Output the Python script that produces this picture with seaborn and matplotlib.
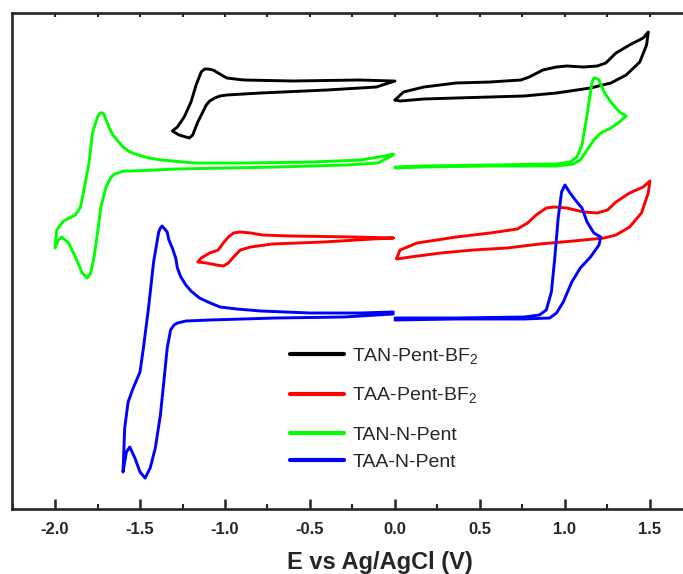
import numpy as np
import pandas as pd
import seaborn as sns
import matplotlib.pyplot as plt
from matplotlib.lines import Line2D
from matplotlib.ticker import MultipleLocator

# cyclic voltammograms: potential (V vs Ag/AgCl), current in offset arbitrary units
compounds = ["TAN-Pent-BF2", "TAA-Pent-BF2", "TAN-N-Pent", "TAA-N-Pent"]
legend_labels = ["TAN-Pent-BF$_2$", "TAA-Pent-BF$_2$", "TAN-N-Pent", "TAA-N-Pent"]
colors = ["#000000", "#ff0000", "#00ff00", "#0000ff"]

xtick_values = [-2.0, -1.5, -1.0, -0.5, 0.0, 0.5, 1.0, 1.5]
xtick_labels = ["-2.0", "-1.5", "-1.0", "-0.5", "0.0", "0.5", "1.0", "1.5"]

# TAN-Pent-BF2
tan_bf2_neg_E = [-0.00, -0.11, -0.40, -0.79, -0.99, -1.03, -1.06, -1.09, -1.11, -1.16, -1.19, -1.21, -1.27, -1.31,
                 -1.28, -1.24, -1.20, -1.17, -1.14, -1.12, -1.10, -1.07, -1.03, -0.99, -0.94, -0.89, -0.60, -0.21, -0.01]
tan_bf2_neg_I = [428, 422, 419, 416, 414, 413, 411, 408, 404, 387, 374, 371, 374, 378,
                 382, 392, 407, 424, 437, 440, 440, 439, 435, 431, 430, 429, 428, 429, 428]
tan_bf2_pos_E = [0.00, 0.05, 0.17, 0.36, 0.56, 0.74, 0.79, 0.87, 0.95, 1.01, 1.11, 1.19, 1.24, 1.30,
                 1.38, 1.46, 1.49, 1.48, 1.44, 1.36, 1.27, 1.15, 0.95, 0.76, 0.56, 0.36, 0.17, 0.03, 0.00]
tan_bf2_pos_I = [409, 417, 422, 426, 427, 429, 432, 439, 442, 443, 442, 443, 446, 456,
                 464, 471, 477, 464, 447, 434, 426, 421, 416, 413, 412, 411, 410, 408, 409]

# TAA-Pent-BF2
taa_bf2_neg_E = [-0.01, -0.13, -0.42, -0.72, -0.85, -0.91, -0.95, -0.98, -1.01, -1.05, -1.11, -1.16,
                 -1.14, -1.09, -1.04, -1.01, -0.98, -0.95, -0.91, -0.85, -0.78, -0.62, -0.23, -0.01]
taa_bf2_neg_I = [271, 270, 267, 265, 262, 259, 252, 246, 243, 244, 246, 247,
                 251, 256, 259, 266, 272, 276, 277, 276, 274, 273, 272, 271]
taa_bf2_pos_E = [0.01, 0.03, 0.13, 0.36, 0.56, 0.72, 0.78, 0.83, 0.89, 0.94, 1.01, 1.11, 1.19, 1.25, 1.30,
                 1.38, 1.46, 1.50, 1.49, 1.45, 1.38, 1.30, 1.23, 1.05, 0.85, 0.66, 0.46, 0.27, 0.09, 0.01]
taa_bf2_pos_I = [251, 259, 266, 272, 276, 280, 286, 294, 301, 302, 301, 297, 296, 299, 307,
                 316, 322, 328, 316, 296, 282, 274, 271, 268, 265, 261, 259, 256, 252, 250]

# TAN-N-Pent
tan_np_neg_E = [-0.01, -0.10, -0.29, -0.69, -1.28, -1.55, -1.60, -1.63, -1.65, -1.67, -1.70, -1.73, -1.75, -1.77,
                -1.79, -1.81, -1.84, -1.88, -1.92, -1.96, -1.98, -2.00,
                -1.99, -1.95, -1.88, -1.85, -1.83, -1.80, -1.78, -1.75, -1.735, -1.72, -1.71, -1.70, -1.68,
                -1.66, -1.63, -1.60, -1.56, -1.51, -1.45, -1.37, -1.18, -0.88, -0.49, -0.20, -0.06, -0.01]
tan_np_neg_I = [354, 346, 344, 342, 340, 338, 338, 336, 335, 332, 322, 302, 276, 252,
                236, 231, 236, 252, 266, 272, 269, 261,
                279, 288, 294, 302, 319, 346, 376, 392, 396, 396, 394, 389, 381,
                374, 368, 362, 357, 354, 351, 349, 346, 346, 347, 349, 353, 355]
tan_np_pos_E = [0.00, 0.17, 0.56, 0.95, 1.03, 1.07, 1.10, 1.13, 1.15, 1.16, 1.17, 1.18, 1.20, 1.23, 1.27, 1.32, 1.36,
                1.32, 1.27, 1.21, 1.17, 1.13, 1.09, 1.05, 0.95, 0.56, 0.17, 0.00]
tan_np_pos_I = [342, 343, 344, 345, 347, 352, 364, 394, 417, 427, 431, 431, 429, 417, 407, 397, 393,
                387, 381, 376, 369, 359, 349, 345, 343, 343, 342, 341]

# TAA-N-Pent
taa_np_neg_E = [-0.01, -0.30, -0.70, -1.09, -1.23, -1.28, -1.30, -1.32, -1.34, -1.36, -1.38, -1.41, -1.44, -1.47,
                -1.50, -1.53, -1.56, -1.58, -1.60,
                -1.59, -1.57, -1.54, -1.50, -1.48, -1.45, -1.42, -1.39, -1.38, -1.37, -1.36, -1.34, -1.33,
                -1.31, -1.29, -1.28, -1.26, -1.23, -1.20, -1.15, -1.10, -1.03, -0.93, -0.79, -0.50, -0.21, -0.01]
taa_np_neg_I = [195, 192, 191, 189, 188, 186, 184, 179, 161, 127, 94, 61, 41, 31,
                37, 51, 62, 57, 37,
                81, 107, 121, 137, 161, 201, 247, 277, 281, 283, 281, 277, 269,
                261, 251, 241, 232, 224, 218, 211, 207, 202, 200, 198, 196, 196, 197]
taa_np_pos_E = [0.00, 0.36, 0.76, 0.85, 0.89, 0.92, 0.94, 0.96, 0.98, 1.00, 1.03, 1.07, 1.10, 1.13, 1.17,
                1.21, 1.20, 1.15, 1.09, 1.04, 0.99, 0.95, 0.91, 0.76, 0.36, 0.00]
taa_np_pos_I = [191, 191, 192, 194, 199, 217, 251, 291, 317, 324, 316, 307, 301, 287, 276,
                272, 264, 252, 241, 227, 207, 196, 191, 190, 190, 189]

branches = [
    ("TAN-Pent-BF2", tan_bf2_neg_E, tan_bf2_neg_I), ("TAN-Pent-BF2", tan_bf2_pos_E, tan_bf2_pos_I),
    ("TAA-Pent-BF2", taa_bf2_neg_E, taa_bf2_neg_I), ("TAA-Pent-BF2", taa_bf2_pos_E, taa_bf2_pos_I),
    ("TAN-N-Pent", tan_np_neg_E, tan_np_neg_I), ("TAN-N-Pent", tan_np_pos_E, tan_np_pos_I),
    ("TAA-N-Pent", taa_np_neg_E, taa_np_neg_I), ("TAA-N-Pent", taa_np_pos_E, taa_np_pos_I),
]
frames = []
for k, (name, E, I) in enumerate(branches):
    frames.append(pd.DataFrame({"compound": name, "branch": k, "E": E, "I": I}))
df = pd.concat(frames, ignore_index=True)

sns.set_style("ticks")
plt.rcParams["font.family"] = ["Liberation Sans", "DejaVu Sans"]
plt.rcParams["mathtext.default"] = "regular"
plt.rcParams["axes.unicode_minus"] = False

fig = plt.figure(figsize=(6.83, 5.74), dpi=100)
ax = fig.add_axes([12 / 683, 65 / 574, 682 / 683, 496 / 574])

sns.lineplot(data=df, x="E", y="I", hue="compound", hue_order=compounds, palette=colors,
             units="branch", estimator=None, sort=False, lw=2.1, legend=False, ax=ax)
for ln in ax.lines:
    ln.set_solid_joinstyle("round")
    ln.set_solid_capstyle("round")

ax.set_xlim(-2.253, 1.759)
ax.set_ylim(0, 496)
ax.set_yticks([])
ax.set_ylabel("")
for sp in ax.spines.values():
    sp.set_linewidth(1.9)
    sp.set_visible(True)

ax.set_xticks(xtick_values)
ax.set_xticklabels(xtick_labels, fontweight="bold", fontsize=12)
ax.xaxis.set_minor_locator(MultipleLocator(0.25))
ax.tick_params(axis="x", which="major", direction="in", length=7, width=1.8, pad=9)
ax.tick_params(axis="x", which="minor", direction="in", length=3.5, width=1.5)

top = ax.secondary_xaxis("top")
top.set_xticks(np.arange(-2.0, 1.76, 0.25))
top.tick_params(direction="in", length=3, width=1.5, labeltop=False)

ax.set_xlabel("E vs Ag/AgCl (V)", fontsize=17, fontweight="bold")
ax.xaxis.set_label_coords(0.54, -0.085)

# legend in two blocks: the BF2 rows sit further apart than the N-Pent rows
handles = [Line2D([], [], color=c, lw=3) for c in colors]
leg_kw = dict(loc="upper left", bbox_transform=fig.transFigure, frameon=False, fontsize=14,
              handlelength=2.8, handletextpad=0.4, borderpad=0, borderaxespad=0)
leg1 = ax.legend(handles[:2], legend_labels[:2], bbox_to_anchor=(290 / 683, 1 - 346 / 574),
                 labelspacing=1.0, **leg_kw)
ax.add_artist(leg1)
ax.legend(handles[2:], legend_labels[2:], bbox_to_anchor=(290 / 683, 1 - 426 / 574),
          labelspacing=0.5, **leg_kw)

fig.savefig("out.png", dpi=100)
